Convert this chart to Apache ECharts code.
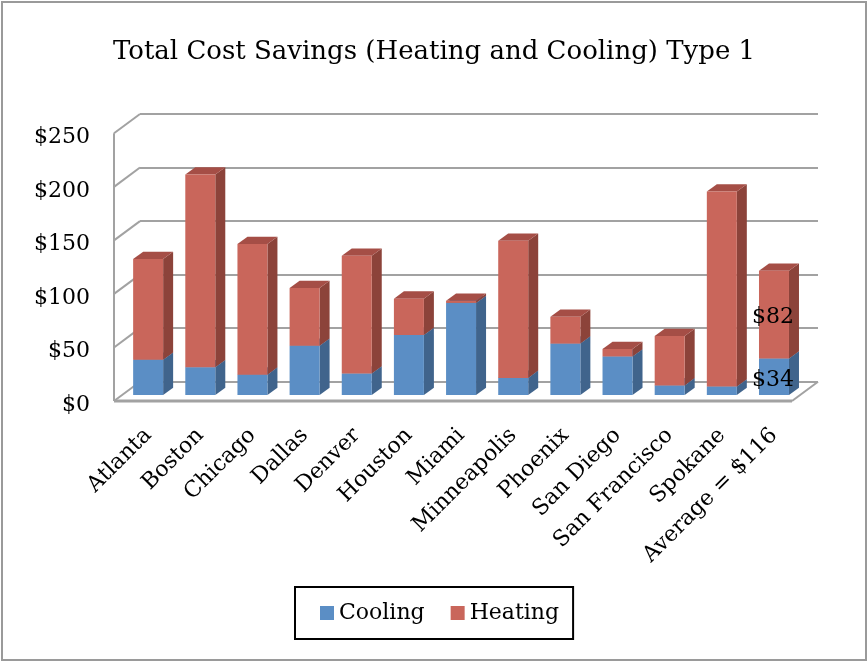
<!DOCTYPE html>
<html>
<head>
<meta charset="utf-8">
<script src="https://cdn.jsdelivr.net/npm/echarts@6/dist/echarts.min.js"></script>
<style>
  html, body { margin: 0; padding: 0; background: #fff; }
  #chart { width: 868px; height: 663px; }
</style>
</head>
<body>
<div id="chart"></div>
<script>
// ---- data ----
const categories = ['Atlanta', 'Boston', 'Chicago', 'Dallas', 'Denver', 'Houston', 'Miami',
  'Minneapolis', 'Phoenix', 'San Diego', 'San Francisco', 'Spokane', 'Average = $116'];
const coolingValues = [33, 26, 19, 46, 20, 56, 86, 16, 48, 36, 9, 8, 34];
const heatingValues = [94, 180, 122, 54, 110, 34, 2, 128, 25, 7, 46, 182, 82];
const valueTicks = [0, 50, 100, 150, 200, 250];
const labeledCategories = ['Average = $116'];

// ---- pseudo-3D geometry ----
const FONT = 'DejaVu Serif';
const WALL = { left: 140, top: 114, width: 678, height: 267.7 }; // back wall plane
const DEPTH = [-26, 19.3];        // back wall -> front edge of the floor
const BAR_PLANE = 0.69;           // depth fraction where column fronts sit
const BAR_DEPTH = [10, -7.3];     // visible thickness of each column
const BAR_WIDTH_RATIO = 0.575;
const TEXT_NUDGE = 3;             // digits sit a little high in this face
const LINE_GRAY = '#a2a2a2';

const palettes = {
  Cooling: { front: '#5b8ec5', side: '#40648c', top: '#4b76a6' },
  Heating: { front: '#c9665b', side: '#8c433a', top: '#a54e46' }
};

function gridAt(f, extraTop) {
  return {
    left: WALL.left + DEPTH[0] * f,
    top: WALL.top + DEPTH[1] * f + (extraTop || 0),
    width: WALL.width,
    height: WALL.height
  };
}

const valueAxisBase = { min: 0, max: 250, interval: 50 };

// side wall, floor and front edges
function wallRenderer(params, api) {
  const v = api.value(1);
  const cs = params.coordSys;
  const y = api.coord([0, v])[1];
  const xb = cs.x;
  const dx = DEPTH[0], dy = DEPTH[1];
  const line = (a, b, w) => ({
    type: 'line',
    shape: { x1: a[0], y1: a[1], x2: b[0], y2: b[1] },
    style: { stroke: LINE_GRAY, lineWidth: w }
  });
  const children = [line([xb, y], [xb + dx, y + dy], 2)];
  if (v === valueTicks[0]) {
    const yTop = api.coord([0, valueTicks[valueTicks.length - 1]])[1];
    children.push(line([xb + dx, y + dy], [xb + dx, yTop + dy], 2));
    children.push(line([xb + dx, y + dy], [xb + cs.width + dx, y + dy], 3));
    children.push(line([xb + cs.width + dx, y + dy], [xb + cs.width, y], 2));
  }
  return { type: 'group', children };
}

// one stacked segment drawn as a box: side, top, then front face
function boxRenderer(palette) {
  return function (params, api) {
    const i = api.value(0), base = api.value(1), amount = api.value(2);
    const p0 = api.coord([i, base]);
    const p1 = api.coord([i, base + amount]);
    const w = api.size([1, 0])[0] * BAR_WIDTH_RATIO;
    const x0 = p0[0] - w / 2, x1 = p0[0] + w / 2;
    const yb = p0[1], yt = p1[1];
    const dx = BAR_DEPTH[0], dy = BAR_DEPTH[1];
    const children = [
      { type: 'polygon', shape: { points: [[x1, yb], [x1 + dx, yb + dy], [x1 + dx, yt + dy], [x1, yt]] },
        style: { fill: palette.side } },
      { type: 'polygon', shape: { points: [[x0, yt], [x1, yt], [x1 + dx, yt + dy], [x0 + dx, yt + dy]] },
        style: { fill: palette.top } },
      { type: 'rect', shape: { x: x0, y: yt, width: w, height: yb - yt },
        style: { fill: palette.front } }
    ];
    if (labeledCategories.includes(categories[i])) {
      children.push({
        type: 'text', z2: 10,
        style: {
          text: '$' + amount, x: (x0 + x1) / 2 - 1, y: (yb + yt) / 2 + TEXT_NUDGE,
          align: 'center', verticalAlign: 'middle',
          fontFamily: FONT, fontSize: 22, fill: '#000'
        }
      });
    }
    return { type: 'group', children };
  };
}

const option = {
  backgroundColor: '#fff',
  animation: false,
  title: {
    text: 'Total Cost Savings (Heating and Cooling) Type 1',
    left: 'center',
    top: 34,
    textStyle: { fontFamily: FONT, fontSize: 26, fontWeight: 'normal', color: '#000' }
  },
  legend: {
    data: ['Cooling', 'Heating'],
    left: 295,
    top: 587,
    icon: 'rect',
    itemWidth: 14,
    itemHeight: 14,
    itemGap: 26,
    padding: [15, 14, 15, 25],
    borderColor: '#000',
    borderWidth: 2,
    backgroundColor: '#fff',
    textStyle: { fontFamily: FONT, fontSize: 22, color: '#000' }
  },
  graphic: [{
    type: 'rect',
    shape: { x: 2, y: 2, width: 864, height: 658 },
    style: { fill: 'none', stroke: '#9a9a9a', lineWidth: 2 },
    z: -1
  }],
  grid: [gridAt(0), gridAt(BAR_PLANE), gridAt(1, TEXT_NUDGE + 1)],
  xAxis: [
    { gridIndex: 0, type: 'category', data: categories, show: false },
    {
      gridIndex: 1, type: 'category', data: categories,
      axisLine: { show: false }, axisTick: { show: false },
      axisLabel: { interval: 0, rotate: 45, margin: 37, fontFamily: FONT, fontSize: 22, color: '#000' }
    },
    { gridIndex: 2, type: 'category', data: categories, show: false }
  ],
  yAxis: [
    Object.assign({
      gridIndex: 0, type: 'value',
      axisLine: { show: false }, axisTick: { show: false }, axisLabel: { show: false },
      splitLine: { show: true, lineStyle: { color: LINE_GRAY, width: 2 } }
    }, valueAxisBase),
    Object.assign({ gridIndex: 1, type: 'value', show: false }, valueAxisBase),
    Object.assign({
      gridIndex: 2, type: 'value',
      axisLine: { show: false }, axisTick: { show: false },
      splitLine: { show: false },
      axisLabel: { margin: 24, fontFamily: FONT, fontSize: 22, color: '#000', formatter: v => '$' + v }
    }, valueAxisBase)
  ],
  series: [
    {
      name: 'walls', type: 'custom', xAxisIndex: 0, yAxisIndex: 0, silent: true, z: 1,
      renderItem: wallRenderer,
      encode: { x: 0, y: 1 },
      data: valueTicks.map(v => [0, v])
    },
    {
      name: 'Cooling', type: 'custom', xAxisIndex: 1, yAxisIndex: 1, z: 3,
      itemStyle: { color: palettes.Cooling.front },
      renderItem: boxRenderer(palettes.Cooling),
      encode: { x: 0, y: [1, 2] },
      data: categories.map((c, i) => [i, 0, coolingValues[i]])
    },
    {
      name: 'Heating', type: 'custom', xAxisIndex: 1, yAxisIndex: 1, z: 3,
      itemStyle: { color: palettes.Heating.front },
      renderItem: boxRenderer(palettes.Heating),
      encode: { x: 0, y: [1, 2] },
      data: categories.map((c, i) => [i, coolingValues[i], heatingValues[i]])
    }
  ]
};

const chart = echarts.init(document.getElementById('chart'), null, { renderer: 'canvas' });
chart.setOption(option);
</script>
</body>
</html>
